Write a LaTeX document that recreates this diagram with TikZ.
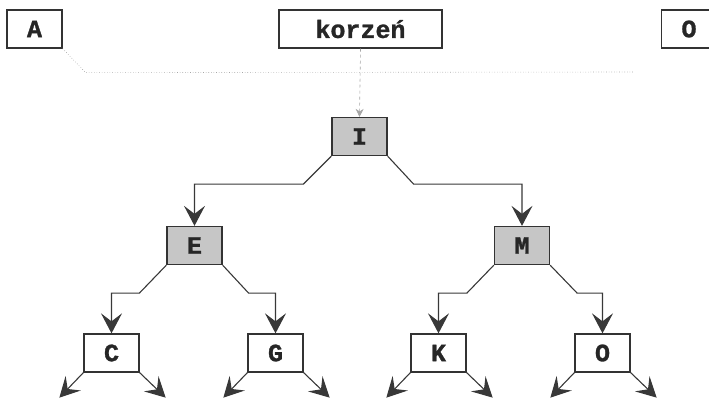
\documentclass[tikz,border=0pt]{standalone}
\usepackage{fontspec}
\setmonofont{Liberation Mono}[BoldFeatures={FakeBold=1.2}]
\usetikzlibrary{arrows.meta}
\begin{document}
\begin{tikzpicture}[x=1pt,y=-1pt,
  box/.style={draw=black!80, line width=1.3pt, minimum width=55pt, minimum height=38pt,
    inner sep=0pt, font=\ttfamily\bfseries\fontsize{25}{25}\selectfont, text=black!85},
  hot/.style={box, fill=gray!45},
  conn/.style={draw=black!78, line width=1.1pt, -{Stealth[length=20pt,width=21pt,inset=8pt]}},
  faint/.style={draw=gray!70, line width=0.6pt, dotted},
]
\useasboundingbox (0,0) rectangle (709,398);
% top row
\node[box] (A) at (34.5,29) {A};
\node[box, minimum width=163pt] (root) at (360.5,29) {korzeń};
\node[box] (Otop) at (689,29) {O};
% tree
\node[hot] (I) at (359.5,136.5) {I};
\node[hot] (E) at (194.5,245.5) {E};
\node[hot] (M) at (522,245.5) {M};
\node[box] (C) at (111.5,353) {C};
\node[box] (G) at (275.5,353) {G};
\node[box] (K) at (438.5,353) {K};
\node[box] (O) at (602.5,353) {O};
% faint guide lines
\draw[faint] (A.south east) -- ++(23,24) coordinate (h1) -- (633,72) coordinate (h2);
\draw[faint, dashed, -{Stealth[length=8pt,width=8pt]}] (root.south) -- (I.north);
% connectors
\draw[conn] (I.south west) -- ++(-28,28) -| (E);
\draw[conn] (I.south east) -- ++(26,28) -| (M);
\draw[conn] (E.south west) -- ++(-27,28) -| (C);
\draw[conn] (E.south east) -- ++(26,28) -| (G);
\draw[conn] (M.south west) -- ++(-27,28) -| (K);
\draw[conn] (M.south east) -- ++(27,28) -| (O);
% leaf arrows
\draw[conn] (C.south west) -- ++(-24,25);
\draw[conn] (C.south east) -- ++(26,25);
\draw[conn] (G.south west) -- ++(-24,25);
\draw[conn] (G.south east) -- ++(26,25);
\draw[conn] (K.south west) -- ++(-24,25);
\draw[conn] (K.south east) -- ++(26,25);
\draw[conn] (O.south west) -- ++(-24,25);
\draw[conn] (O.south east) -- ++(26,25);
\end{tikzpicture}
\end{document}
